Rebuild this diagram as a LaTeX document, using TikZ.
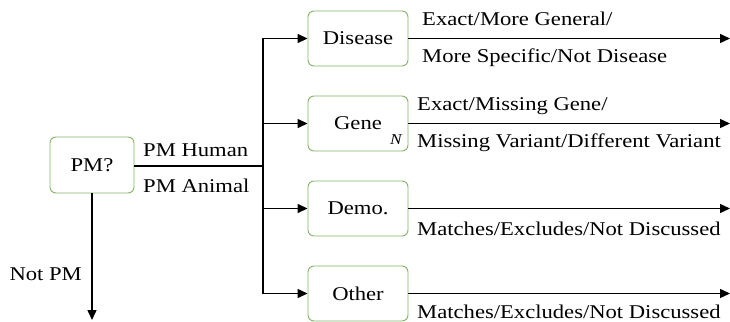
\documentclass[tikz,border=0pt]{standalone}
\usepackage{fontspec}
\setmainfont{Liberation Serif}[FakeStretch=1.16]
\usetikzlibrary{arrows.meta}
\definecolor{boxgreen}{HTML}{82B366}
\tikzset{
  box/.style={draw=boxgreen, line width=0.9pt, rounded corners=6pt, fill=white,
    minimum width=100pt, minimum height=55pt, inner sep=0pt, font=\fontsize{19.5}{22}\selectfont},
  lbl/.style={anchor=base west, inner sep=0pt, font=\fontsize{19.5}{22}\selectfont},
  wire/.style={line width=1.4pt, black},
  arr/.style={wire, -{Triangle[length=10pt,width=9pt]}}
}
\begin{document}
\begin{tikzpicture}[x=1pt,y=-1pt]
\useasboundingbox (0,0) rectangle (730,321);
\node[box, minimum width=84pt, minimum height=56pt] (pm) at (92,165) {PM?};
\node[box] (dis) at (358,38.5) {Disease};
\node[box] (gene) at (358,123.5) {Gene};
\node[box] (demo) at (358,208.5) {Demo.};
\node[box] (oth) at (358,293.5) {Other};
\node[inner sep=0pt, font=\fontsize{15}{17}\selectfont\itshape] (n) at (396,140) {N};

\coordinate (bus) at (263,166);
\coordinate (bustop) at (263,38.5);
\coordinate (busbot) at (263,293.5);
\coordinate (down) at (92,320);
\coordinate (e1) at (730,38.5);
\coordinate (e2) at (730,123.5);
\coordinate (e3) at (730,208.5);
\coordinate (e4) at (730,293.5);

\draw[wire] (pm.east |- bus) -- (bus);
\draw[wire] (bustop) -- (busbot);
\draw[arr] (bustop) -- (dis.west);
\draw[arr] (gene.west -| bus) -- (gene.west);
\draw[arr] (demo.west -| bus) -- (demo.west);
\draw[arr] (busbot) -- (oth.west);
\draw[arr] (dis.east) -- (e1);
\draw[arr] (gene.east) -- (e2);
\draw[arr] (demo.east) -- (e3);
\draw[arr] (oth.east) -- (e4);
\draw[arr] (pm.south) -- (down);

\node[lbl] (h) at (143,156) {PM Human};
\node[lbl] (a) at (143,192) {PM Animal};
\node[lbl, anchor=base east] (np) at (82,280) {Not PM};
\node[lbl] (d1) at (422,26) {Exact/More General/};
\node[lbl] (d2) at (422,63) {More Specific/Not Disease};
\node[lbl] (g1) at (417,110) {Exact/Missing Gene/};
\node[lbl] (g2) at (417,147) {Missing Variant/Different Variant};
\node[lbl] (m1) at (417,235) {Matches/Excludes/Not Discussed};
\node[lbl] (m2) at (417,318) {Matches/Excludes/Not Discussed};
\end{tikzpicture}
\end{document}
